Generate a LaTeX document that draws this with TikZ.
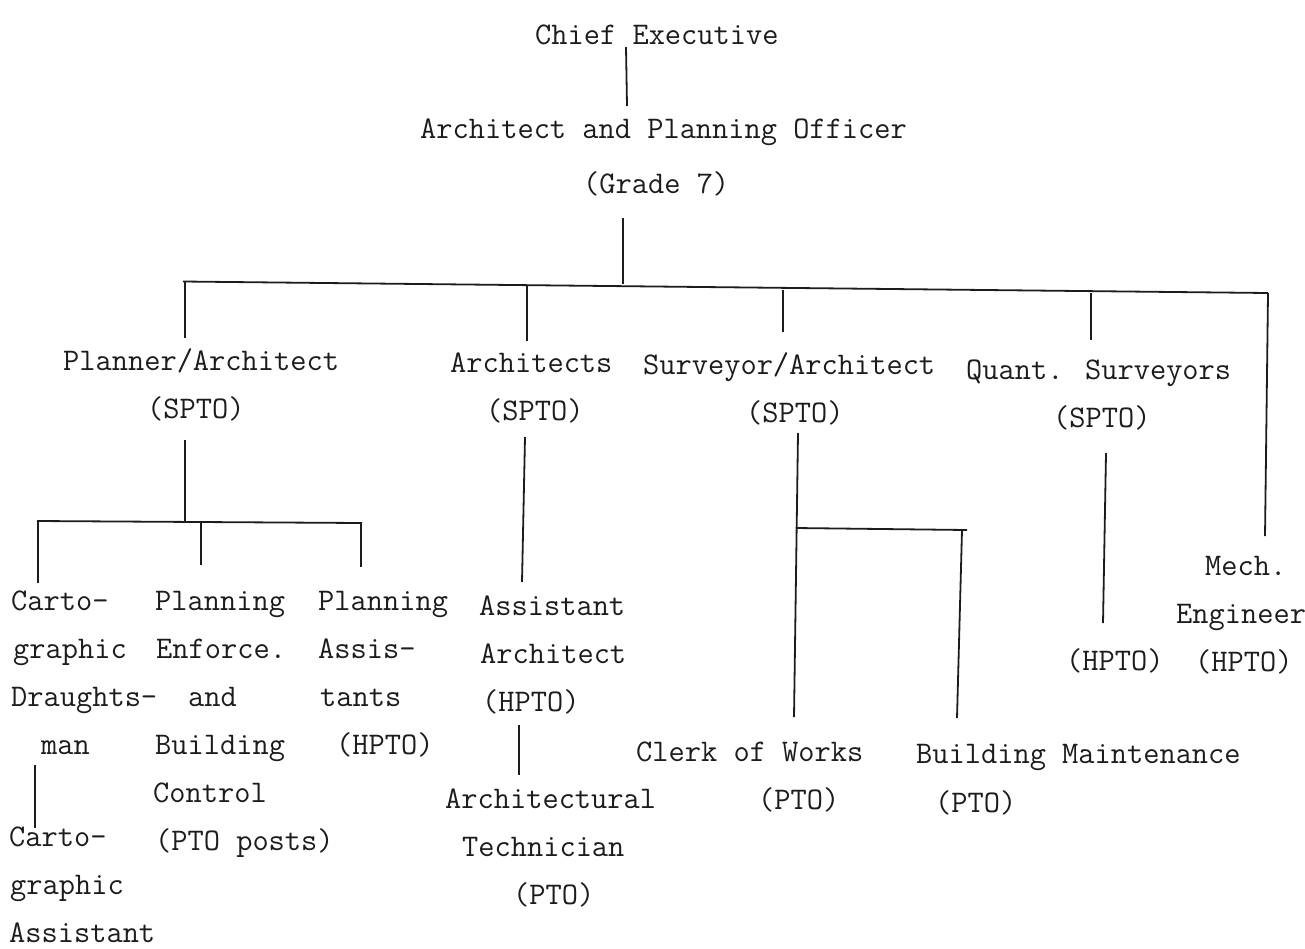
\documentclass[tikz,border=0pt]{standalone}
\definecolor{ink}{HTML}{1C1C1C}
% horizontal offset of an indented line inside a label
\newcommand\ind[1]{\hspace*{#1pt}}
\begin{document}
\begin{tikzpicture}[x=1pt,y=-1pt,
  lbl/.style={anchor=base west, inner sep=0pt, align=left, text=ink,
              font=\ttfamily\fontsize{31.5}{48}\selectfont},
  link/.style={draw=ink, line width=1.8pt}]
\useasboundingbox (0,0) rectangle (1305,948);

% ---------- posts (placed at the baseline of their last line) ----------
\node[lbl] (chief) at (535,44) {Chief Executive};
\node[lbl] (apo) at (420,193) {Architect and Planning Officer\\[7pt]\ind{163}(Grade 7)};

\node[lbl] (plan)  at (63,418)  {Planner/Architect\\\ind{84}(SPTO)};
\node[lbl] (arch)  at (450,420) {Architects\\\ind{36}(SPTO)};
\node[lbl] (surv)  at (643,422) {Surveyor/Architect\\\ind{103}(SPTO)};
\node[lbl] (quant) at (966,427) {Quant. Surveyors\\\ind{87}(SPTO)};

\node[lbl] (draught)   at (11,754)  {Carto-\\\ind{2}graphic\\Draughts-\\\ind{30}man};
\node[lbl] (cartoasst) at (9,942)   {Carto-\\\ind{1}graphic\\Assistant};
\node[lbl] (enforce)   at (153,850) {\ind{2}Planning\\\ind{3}Enforce.\\\ind{35}and\\\ind{2}Building\\Control\\\ind{2}(PTO posts)};
\node[lbl] (plasst)    at (318,754) {Planning\\Assis-\\\ind{2}tants\\\ind{18}(HPTO)};
\node[lbl] (asstarch)  at (479,711) {Assistant\\\ind{1}Architect\\\ind{3}(HPTO)};
\node[lbl] (archtech)  at (445,904) {Architectural\\\ind{17}Technician\\\ind{68}(PTO)};
\node[lbl] (clerk)     at (636,809) {Clerk of Works\\\ind{122}(PTO)};
\node[lbl] (maint)     at (916,812) {Building Maintenance\\[1pt]\ind{19}(PTO)};
\node[lbl] (qshpto)    at (1066,670) {(HPTO)};
\node[lbl] (mech)      at (1176,671) {\ind{29}Mech.\\Engineer\\\ind{19}(HPTO)};

% ---------- connector end points ----------
\coordinate (chiefB) at (626,47);   \coordinate (apoT) at (627,106);
\coordinate (apoB)   at (623,218);  \coordinate (apoJ) at (623,284);
\coordinate (barL)   at (183,281.5);\coordinate (barR) at (1268,293);
\coordinate (planJ)  at (185,282);  \coordinate (planT)  at (185,338);
\coordinate (archJ)  at (527,285);  \coordinate (archT)  at (527,341);
\coordinate (survJ)  at (783,290);  \coordinate (survT)  at (783,332);
\coordinate (quantJ) at (1091,293); \coordinate (quantT) at (1091,340);
\coordinate (mechB)  at (1265,536);

% Planner/Architect group
\coordinate (planB) at (185,440);   \coordinate (planJ2) at (185,521.5);
\coordinate (pbarL) at (37,521);    \coordinate (pbarR)  at (362,523);
\coordinate (draJ) at (38,521);     \coordinate (draT) at (38,583);
\coordinate (enfJ) at (201,522);    \coordinate (enfT) at (201,565);
\coordinate (plaJ) at (361,523);    \coordinate (plaT) at (361,567);
\coordinate (draB) at (35,765);     \coordinate (caT)  at (35,828);

% Architects line
\coordinate (archB) at (525,437);   \coordinate (aaT) at (522,582);
\coordinate (aaB)   at (519,725);   \coordinate (atT) at (519,775);

% Surveyor/Architect group
\coordinate (survB) at (798,433);   \coordinate (clerkT) at (794,717);
\coordinate (sbarL) at (795.5,528); \coordinate (sbarR) at (967,530);
\coordinate (mntJ)  at (962,530);   \coordinate (mntT)  at (957,718);

% Quantity surveyors line
\coordinate (quantB) at (1106,453); \coordinate (qhT) at (1103,623);

% ---------- connectors ----------
\draw[link] (chiefB) -- (apoT);
\draw[link] (apoB) -- (apoJ);
\draw[link] (barL) -- (barR);
\draw[link] (planJ) -- (planT);
\draw[link] (archJ) -- (archT);
\draw[link] (survJ) -- (survT);
\draw[link] (quantJ) -- (quantT);
\draw[link] (barR) -- (mechB);

\draw[link] (planB) -- (planJ2);
\draw[link] (pbarL) -- (pbarR);
\draw[link] (draJ) -- (draT);
\draw[link] (enfJ) -- (enfT);
\draw[link] (plaJ) -- (plaT);
\draw[link] (draB) -- (caT);

\draw[link] (archB) -- (aaT);
\draw[link] (aaB) -- (atT);

\draw[link] (survB) -- (clerkT);
\draw[link] (sbarL) -- (sbarR);
\draw[link] (mntJ) -- (mntT);

\draw[link] (quantB) -- (qhT);
\end{tikzpicture}
\end{document}
